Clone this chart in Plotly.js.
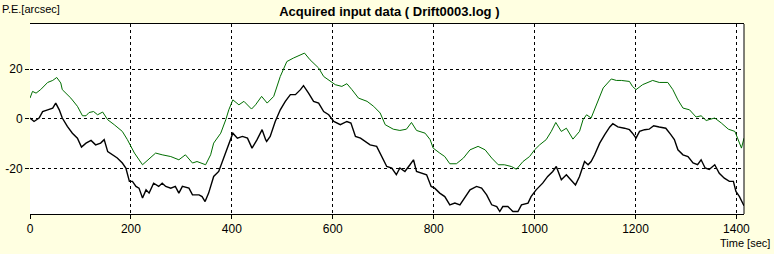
<!DOCTYPE html>
<html><head><meta charset="utf-8">
<script src="https://cdn.plot.ly/plotly-3.0.1.min.js"></script>
<style>html,body{margin:0;padding:0;background:#FFFFE1;}</style>
</head><body><div id="chart" style="width:774px;height:254px;"></div>
<script>
// Green (smoothed) series
const greenT = [0,5,12,21,35,45,53,61,64,81,94,104,111,117,126,134,144,154,167,183,193,207,223,236,249,262,279,295,308,322,331,348,358,364,378,388,394,402,414,424,439,447,459,470,483,496,509,522,544,555,572,582,595,605,618,628,638,651,668,681,694,704,720,733,746,756,766,783,793,799,812,822,832,845,859,872,888,902,915,928,940,954,964,977,990,1000,1010,1023,1033,1042,1053,1063,1076,1089,1096,1103,1112,1122,1136,1152,1162,1172,1188,1194,1201,1214,1234,1247,1264,1274,1284,1294,1307,1320,1330,1340,1357,1370,1384,1397,1404,1410,1415];
const greenPE = [8.3,11,10.3,11.7,14.6,15.4,16.6,14.4,11.7,8.3,5,1.2,1.2,2.5,2.9,1.6,2.7,-0.4,-2.4,-5.1,-8.4,-13.8,-18.5,-16.2,-13.8,-14.5,-15.2,-16.5,-14.5,-17.8,-17.2,-18.5,-14.5,-9.8,-5.8,-0.4,3.6,7.6,5.6,7,3.9,5.6,9,6.3,9,17,23,24.4,26.4,23.7,20.4,17,15,13.7,13,14.1,11.7,8.3,7,5,2.3,-2.4,-4.2,-4.7,-4.2,-1.5,-4.7,-5.8,-8.4,-11.8,-13.8,-15.2,-18.1,-18.1,-15.8,-12.5,-11.1,-12.5,-15.8,-18.5,-18.5,-19.2,-20.3,-17.2,-15.2,-12.5,-10.5,-8.4,-5.1,-1.5,-5.1,-3.8,-8.2,-5.1,-0.4,1.6,0.3,5.6,12.4,16,15.4,15.4,15,13,11.7,13.7,15.4,14.6,14.6,11.7,7.6,4.3,3.6,0.7,1.2,-0.7,0.3,-1.7,-4.2,-5.1,-8.4,-11.8,-7.8];
// Black (raw) series
const blackT = [0,8,18,25,35,45,51,58,64,74,84,94,102,111,121,130,140,147,154,164,173,183,190,197,203,210,216,223,230,236,245,255,262,269,279,288,295,302,315,322,335,341,347,354,364,374,384,394,402,411,421,431,440,450,460,467,469,476,486,496,506,516,526,536,542,552,562,572,582,592,602,615,628,636,645,655,664,674,687,695,704,707,717,726,733,743,753,760,766,776,786,795,802,812,822,832,842,852,859,872,885,895,905,915,925,931,937,947,957,967,974,987,993,1003,1016,1026,1036,1043,1053,1063,1069,1081,1089,1099,1106,1112,1119,1129,1139,1149,1155,1165,1178,1188,1194,1201,1208,1218,1227,1236,1247,1260,1270,1277,1284,1294,1304,1314,1323,1330,1338,1346,1357,1366,1376,1386,1394,1399,1406,1412,1415];
const blackPE = [0.3,-1.1,0.3,2.9,3.6,4.3,6.3,3.6,0.3,-3.1,-5.8,-7.8,-11.4,-9.8,-8.7,-10.5,-9.8,-8.4,-13.2,-14.5,-15.8,-17.8,-19.8,-25.2,-25.2,-27.2,-27.9,-31.9,-28.6,-29.9,-25.9,-27.2,-25.9,-27.2,-27.9,-27.2,-29.9,-27.2,-27.9,-30.6,-30.6,-31.3,-33.3,-29.9,-23.2,-21.2,-15.8,-10.5,-5.8,-7.8,-7.1,-7.8,-11.8,-8.4,-4.4,-8.4,-9.1,-7.1,-1.1,3.6,7,9.7,9.7,11.7,13.3,10.3,7,6.3,2.9,1.6,-1.1,-2.4,-1.1,-1.7,-7.1,-7.8,-9.1,-10.5,-11.1,-14.5,-17.8,-19.2,-19.8,-22.5,-19.8,-21.2,-18.5,-16.5,-21.2,-21.9,-22.5,-27.2,-27.9,-29.9,-31.3,-34.6,-33.9,-34.6,-32.6,-28.6,-27.2,-27.9,-30.6,-34.6,-35.3,-37.3,-35.3,-35.3,-37.3,-37.3,-34.6,-33.9,-31.3,-28.6,-25.9,-23.2,-21.2,-19.2,-24.5,-22.5,-23.9,-26.6,-23.2,-17.2,-18.5,-17.2,-14.5,-9.8,-6.4,-3.3,-2,-3.3,-3.8,-4.4,-5.8,-7.8,-5.1,-4.4,-4.2,-2.8,-3.3,-3.8,-6.4,-8.4,-12.5,-14.5,-15.2,-17.8,-18.5,-16.5,-19.8,-20.4,-18.5,-21.9,-23.9,-25.2,-25.2,-29.2,-31.3,-33.9,-35];
const xTicks = [0,200,400,600,800,1000,1200,1400];
const yTicks = [-20,0,20];
const yTickText = ["-20","0","20"];

const traces = [
  {x: greenT, y: greenPE, type:'scatter', mode:'lines', line:{color:'#006E00', width:1}, hoverinfo:'skip'},
  {x: blackT, y: blackPE, type:'scatter', mode:'lines', line:{color:'#000000', width:1.4}, hoverinfo:'skip'}
];
const font = {family:'"Liberation Sans", Arial, sans-serif', size:12, color:'#000'};
const layout = {
  width:774, height:254,
  paper_bgcolor:'#FFFFE1', plot_bgcolor:'#FFFFFF',
  margin:{l:30, r:30, t:24, b:40},
  showlegend:false,
  font: font,
  title:{text:'<b>Acquired input data ( Drift0003.log )</b>', x:0.503, xanchor:'center', y:0.955, yanchor:'middle', yref:'container', font:{family:'"Liberation Sans", Arial, sans-serif', size:13, color:'#000'}},
  xaxis:{range:[0,1415], tickvals:xTicks, ticktext:xTicks.map(String), ticks:'outside', ticklen:4, tickcolor:'#000',
    showgrid:true, gridcolor:'#000', griddash:'3px,3px', gridwidth:1, zeroline:false,
    showline:true, linecolor:'#000', linewidth:1, mirror:true, tickfont:font},
  yaxis:{range:[-38.3,38.1], tickvals:yTicks, ticktext:yTickText, ticks:'outside', ticklen:4, tickcolor:'#000',
    showgrid:true, gridcolor:'#000', griddash:'3px,3px', gridwidth:1, zeroline:false,
    showline:false, tickfont:font},
  shapes:[{type:'line', xref:'paper', yref:'paper', x0:1, x1:1, y0:0, y1:1, line:{color:'#000', width:1}}],
  annotations:[
    {text:'P.E.[arcsec]', xref:'paper', yref:'paper', x:-30/714, y:1+15/190, xanchor:'left', yanchor:'middle', showarrow:false, font:{family:'"Liberation Sans", Arial, sans-serif', size:11, color:'#000'}},
    {text:'Time [sec]', xref:'paper', yref:'paper', x:1+28/714, y:-29/190, xanchor:'right', yanchor:'middle', showarrow:false, font:{family:'"Liberation Sans", Arial, sans-serif', size:11, color:'#000'}}
  ]
};
Plotly.newPlot('chart', traces, layout, {staticPlot:true, displayModeBar:false});
</script></body></html>
